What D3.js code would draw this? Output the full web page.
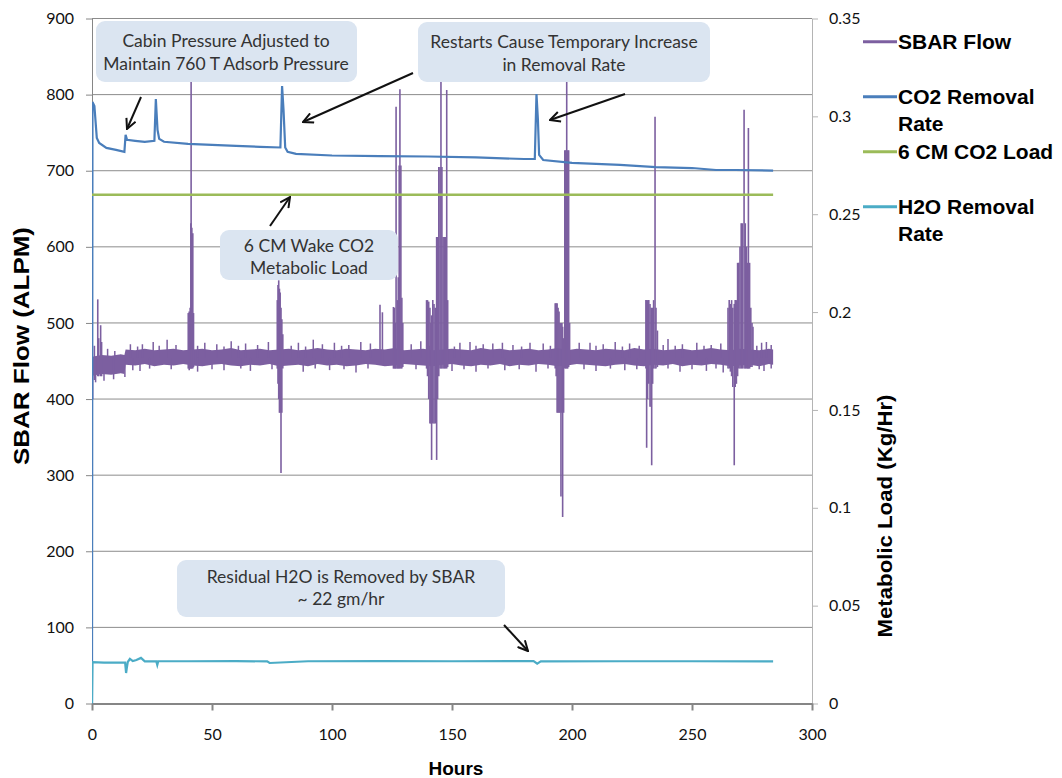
<!DOCTYPE html>
<html>
<head>
<meta charset="utf-8">
<script src="https://cdn.jsdelivr.net/npm/d3@7"></script>
<style>
  html, body { margin: 0; padding: 0; background: #fff; }
  svg { display: block; }
</style>
</head>
<body>
<svg id="chart" width="1062" height="778"></svg>
<script>
// ---------------- DATA ----------------
const xTicks = [0, 50, 100, 150, 200, 250, 300];
const yLeftTicks = [0, 100, 200, 300, 400, 500, 600, 700, 800, 900];
const yRightTicks = [0, 0.05, 0.1, 0.15, 0.2, 0.25, 0.3, 0.35];
const yRightTickLabels = ["0", "0.05", "0.1", "0.15", "0.2", "0.25", "0.3", "0.35"];

const seriesNames = ["SBAR Flow", "CO2 Removal Rate", "6 CM CO2 Load", "H2O Removal Rate"];

// SBAR Flow (ALPM) - baseline noise envelope
const sbarHours = [0, 0.5, 4, 8, 12, 13.5, 14, 18, 22, 26, 30, 34, 38, 42, 46, 50, 54, 58, 62, 66, 70, 74, 78, 82, 86, 90, 94, 98, 102, 106, 110, 114, 118, 122, 126, 130, 134, 138, 142, 146, 150, 154, 158, 162, 166, 170, 174, 178, 182, 186, 190, 194, 198, 202, 206, 210, 214, 218, 222, 226, 230, 234, 238, 242, 246, 250, 254, 258, 262, 266, 270, 274, 278, 282, 283.8];
const sbarLow = [428,431,433,432,434,433,445,444,446,443, 445,444,446,444,443,445,446,444,443,445, 444,446,443,444,445,443,446,444,445,443, 444,446,445,443,444,446,445,444,443,445, 446,444,443,445,444,446,443,445,444,446, 445,443,444,446,445,444,443,445,446,444, 443,445,444,446,443,445,444,446,445,443, 444,445,443,446,445];
const sbarHigh = [453,456,458,457,459,458,465,464,466,464, 465,466,464,465,466,464,465,467,464,465, 466,464,465,466,464,465,467,465,464,466, 465,464,466,465,467,464,465,466,464,465, 466,465,464,467,465,466,464,465,466,464, 465,467,464,466,465,464,466,465,464,467, 465,466,464,465,466,464,465,467,465,464, 466,465,464,466,465];

// SBAR Flow - small upward excursions in the noise
const sbarMinorHours = [6.5, 9.5, 16, 19, 21, 25.5, 28, 31.3, 35, 44, 47, 52, 55, 58, 61, 64, 69, 73.5, 83, 86, 89, 92.2, 96, 101, 104, 107, 112, 116, 133, 137, 140.5, 151, 153.3, 157.5, 160, 163, 167, 171, 175.4, 179, 182.5, 188, 191, 203, 207.5, 210, 213, 218, 221, 224, 228, 238, 240, 243, 246, 252, 255, 258, 262, 277, 279, 281, 283];
const sbarMinorHighs = [466,463,472,469,472,475,470,478,471,470,474,472,469,476,470,473,471,475,470,474,469,478,472,474,470,471,475,473,472,476,470,469,474,475,470,472,473,474,471,469,474,473,470,474,474,470,472,475,469,473,470,471,479,470,472,474,470,471,473,470,474,475,471];
// SBAR Flow - small downward excursions
const sbarDipHours = [0.3, 1.5, 5, 9, 13.7, 17, 20, 24, 33, 44, 50, 55, 62, 66, 75, 88, 93, 99, 105, 110, 115, 135, 150, 155, 160, 165, 172, 178, 185, 190, 205, 210, 216, 222, 227, 240, 245, 250, 256, 260, 263, 278, 280, 283];
const sbarDipLows = [400,422,424,426,429,438,437,440,439,436,439,438,440,437,439,436,440,438,439,435,440,439,437,439,436,440,438,439,436,440,439,437,440,438,439,440,436,439,437,440,435,439,437,440];

// SBAR Flow - restart transients (hour, min, max)
const spikeHours = [1.0, 2.4, 2.8, 3.6, 4.0,
  40.1, 40.5, 40.9, 41.2, 41.3, 41.6, 42.0, 42.3,
  77.2, 77.5, 77.8, 78.1, 78.4, 78.75, 79.1, 79.5,
  120.0, 121.0,
  125.6, 126.0, 126.4, 126.7, 127.2, 127.6, 128.0, 128.3, 128.7, 129.1, 129.5,
  139.4, 139.8, 140.3, 140.8, 141.2, 141.5, 142.0, 142.5, 143.0, 143.6, 144.0, 144.5, 145.0, 145.4, 145.8, 146.3, 146.8, 147.3, 147.8, 148.2,
  193.0, 193.4, 193.8, 194.2, 194.6, 195.0, 195.4, 195.8, 196.1, 196.5, 197.0, 197.4, 197.8, 198.2, 198.6, 199.0,
  230.8, 231.1, 231.5, 232.0, 232.5, 233.0, 233.2, 233.6, 234.0, 234.6, 235.0, 235.6,
  265.0, 265.5, 266.0, 266.5, 267.0, 267.6, 268.0, 268.5, 269.0, 269.5, 270.0, 270.5, 271.0, 271.7, 272.2, 272.7, 273.2, 273.5, 274.0, 274.5, 275.0, 275.4];
const spikeLows = [425, 430, 430, 430, 430,
  440, 438, 440, 440, 440, 440, 440, 442,
  440, 420, 400, 382, 382, 303, 382, 440,
  445, 445,
  440, 440, 440, 440, 440, 440, 440, 440, 440, 440, 442,
  440, 430, 400, 368, 368, 320, 368, 368, 368, 320, 400, 430, 440, 440, 440, 440, 440, 440, 440, 442,
  440, 430, 382, 382, 382, 382, 272, 382, 245, 382, 440, 440, 440, 440, 442, 445,
  440, 336, 400, 420, 390, 390, 313, 420, 440, 440, 440, 442,
  440, 440, 436, 430, 416, 313, 416, 420, 430, 440, 440, 440, 440, 440, 440, 440, 440, 440, 440, 442, 442, 445];
const spikeHighs = [470, 531, 480, 497, 475,
  513, 515, 520, 631, 850, 625, 618, 513,
  530, 550, 556, 545, 540, 520, 505, 485,
  524, 514,
  521, 520, 500, 784, 530, 560, 707, 807, 707, 533, 500,
  530, 530, 528, 520, 500, 510, 530, 525, 520, 613, 613, 705, 705, 850, 705, 613, 613, 613, 806, 530,
  526, 526, 526, 520, 515, 500, 500, 500, 495, 480, 727, 727, 850, 727, 727, 500,
  530, 530, 530, 530, 525, 520, 510, 520, 530, 771, 520, 490,
  520, 530, 525, 530, 520, 525, 530, 530, 579, 579, 600, 631, 631, 780, 631, 600, 579, 756, 579, 520, 500, 495];

// CO2 Removal Rate (kg/hr, right axis)
const co2Hours = [0, 0.2, 1, 2, 3, 6, 10, 13.5, 14, 14.6, 18, 22, 26, 26.6, 27.3, 28, 30, 40, 50, 60, 70, 78.5, 79.2, 79.8, 80.5, 81.5, 85, 100, 120, 140, 160, 180, 184.5, 185.2, 185.8, 186.3, 188, 200, 220, 235, 250, 260, 268, 283.8];
const co2Values = [0, 0.3073, 0.3053, 0.2890, 0.2864, 0.2839, 0.2829, 0.2819, 0.2906, 0.2880, 0.2875, 0.2870, 0.2875, 0.3089, 0.2931, 0.2885, 0.2870, 0.2859, 0.2854, 0.2849, 0.2844, 0.2841, 0.3155, 0.3033, 0.2841, 0.2819, 0.2808, 0.2800, 0.2797, 0.2795, 0.2790, 0.2782, 0.2782, 0.3114, 0.2982, 0.2803, 0.2777, 0.2762, 0.2752, 0.2741, 0.2736, 0.2726, 0.2726, 0.2723];

// 6 CM CO2 Load (kg/hr, right axis)
const loadHours = [0, 283.8];
const loadValues = [0.26, 0.26];

// H2O Removal Rate (kg/hr, right axis)
const h2oHours = [0, 0.2, 5, 13.8, 14.2, 14.5, 14.9, 15.8, 17, 18.5, 20.4, 22, 26.8, 27.2, 27.6, 40, 60, 73, 74, 90, 120, 150, 184, 185.5, 187, 220, 250, 283.8];
const h2oValues = [0, 0.0211, 0.0209, 0.0209, 0.0156, 0.0181, 0.0212, 0.0228, 0.0217, 0.0222, 0.0233, 0.0215, 0.0215, 0.0197, 0.0216, 0.0216, 0.0217, 0.0215, 0.0207, 0.0216, 0.0217, 0.0216, 0.0217, 0.0204, 0.0215, 0.0216, 0.0216, 0.0215];

// Annotations
const noteTexts = [
  ["Cabin Pressure Adjusted to", "Maintain 760 T Adsorb Pressure"],
  ["Restarts Cause Temporary Increase", "in Removal Rate"],
  ["6 CM Wake CO2", "Metabolic Load"],
  ["Residual H2O is Removed by SBAR", "~ 22 gm/hr"]
];

// ---------------- DRAW ----------------
const svg = d3.select("#chart");
const colors = { sbar: "#7c5fa0", co2: "#4a7ebb", load: "#9bbb59", h2o: "#4bacc6" };
const L = 92, R = 812, T = 18.5, B = 703.5;

const x = d3.scaleLinear().domain([0, 300]).range([L, R]);
const yL = d3.scaleLinear().domain([0, 900]).range([B, T]);
const yR = d3.scaleLinear().domain([0, 0.35]).range([B, T]);

const tickFont = "Lato, 'Open Sans', sans-serif";

// gridlines
svg.append("g").selectAll("line").data(yLeftTicks.filter(d => d > 0)).join("line")
  .attr("x1", L).attr("x2", R)
  .attr("y1", d => yL(d)).attr("y2", d => yL(d))
  .attr("stroke", "#8c8c8c").attr("stroke-width", 1);

// axes
const gL = svg.append("g").attr("transform", `translate(${L},0)`)
  .call(d3.axisLeft(yL).tickValues(yLeftTicks).tickSize(6).tickSizeOuter(0).tickPadding(12));
const gR = svg.append("g").attr("transform", `translate(${R},0)`)
  .call(d3.axisRight(yR).tickValues(yRightTicks).tickSize(6).tickSizeOuter(0).tickPadding(11)
    .tickFormat((d, i) => yRightTickLabels[i]));
const gB = svg.append("g").attr("transform", `translate(0,${B})`)
  .call(d3.axisBottom(x).tickValues(xTicks).tickSize(7).tickSizeOuter(0).tickPadding(18));

[gL, gR, gB].forEach(g => {
  g.selectAll("text").attr("font-family", tickFont).attr("font-size", 16).attr("fill", "#111");
});
gL.select(".domain").attr("stroke", "#868686");
gL.selectAll(".tick line").attr("stroke", "#868686");
gR.select(".domain").attr("stroke", "#b4b4b4");
gR.selectAll(".tick line").attr("stroke", "#b4b4b4");
gB.select(".domain").attr("stroke", "#868686").attr("stroke-width", 2);
gB.selectAll(".tick line").attr("stroke", "#868686").attr("stroke-width", 2);

// clip for plot
svg.append("clipPath").attr("id", "plotclip").append("rect")
  .attr("x", L).attr("y", T).attr("width", R - L).attr("height", B - T);
const plot = svg.append("g").attr("clip-path", "url(#plotclip)");

// SBAR band
const band = sbarHours.map((h, i) => ({ h, lo: sbarLow[i], hi: sbarHigh[i] }));
plot.append("path").datum(band)
  .attr("d", d3.area().x(d => x(d.h)).y0(d => yL(d.lo)).y1(d => yL(d.hi)))
  .attr("fill", colors.sbar);
// minor excursions
const vline = d3.line().x(d => x(d[0])).y(d => yL(d[1]));
const minor = sbarMinorHours.map((h, i) => [[h, 454], [h, sbarMinorHighs[i]]])
  .concat(sbarDipHours.map((h, i) => [[h, 454], [h, sbarDipLows[i]]]));
plot.append("g").selectAll("path").data(minor).join("path")
  .attr("d", vline).attr("stroke", colors.sbar).attr("stroke-width", 1.5).attr("fill", "none");
// transients
const spikes = spikeHours.map((h, i) => [[h, spikeLows[i]], [h, spikeHighs[i]]]);
plot.append("g").selectAll("path").data(spikes).join("path")
  .attr("d", vline).attr("stroke", colors.sbar).attr("stroke-width", 1.6).attr("fill", "none");

// right-axis series
const lineR = d3.line().x(d => x(d[0])).y(d => yR(d[1]));
plot.append("path").datum(co2Hours.map((h, i) => [h, co2Values[i]]))
  .attr("d", lineR).attr("fill", "none").attr("stroke", colors.co2).attr("stroke-width", 2.2);
plot.append("path").datum(loadHours.map((h, i) => [h, loadValues[i]]))
  .attr("d", lineR).attr("fill", "none").attr("stroke", colors.load).attr("stroke-width", 2.5);
plot.append("path").datum(h2oHours.map((h, i) => [h, h2oValues[i]]))
  .attr("d", lineR).attr("fill", "none").attr("stroke", colors.h2o).attr("stroke-width", 2.2);

// annotation boxes
const boxes = [
  { x: 96, y: 21, w: 261, h: 61, cx: 226, b1: 47, b2: 70 },
  { x: 418, y: 22, w: 292, h: 60, cx: 564, b1: 48, b2: 71 },
  { x: 220, y: 230, w: 178, h: 50, cx: 309, b1: 252, b2: 274 },
  { x: 177, y: 560, w: 328, h: 57, cx: 341, b1: 583, b2: 605 }
];
const gN = svg.append("g");
boxes.forEach((b, i) => {
  gN.append("rect").attr("x", b.x).attr("y", b.y).attr("width", b.w).attr("height", b.h)
    .attr("rx", 9).attr("fill", "#dbe5f1");
  gN.append("text").attr("x", b.cx).attr("y", b.b1).attr("text-anchor", "middle")
    .attr("font-family", tickFont).attr("font-size", 17.5).attr("fill", "#333").text(noteTexts[i][0]);
  gN.append("text").attr("x", b.cx).attr("y", b.b2).attr("text-anchor", "middle")
    .attr("font-family", tickFont).attr("font-size", 17.5).attr("fill", "#333").text(noteTexts[i][1]);
});

// arrows
svg.append("defs").append("marker").attr("id", "arr")
  .attr("viewBox", "0 0 12 12").attr("refX", 11).attr("refY", 6)
  .attr("markerWidth", 12).attr("markerHeight", 12).attr("markerUnits", "userSpaceOnUse")
  .attr("orient", "auto")
  .append("path").attr("d", "M1,1 L11,6 L1,11").attr("fill", "none").attr("stroke", "#111").attr("stroke-width", 2);
const arrows = [
  [141, 97, 127, 129],
  [413, 73, 303, 122],
  [625, 94, 550, 120],
  [270, 226, 290, 197],
  [504, 625, 528, 651]
];
svg.append("g").selectAll("line").data(arrows).join("line")
  .attr("x1", d => d[0]).attr("y1", d => d[1]).attr("x2", d => d[2]).attr("y2", d => d[3])
  .attr("stroke", "#111").attr("stroke-width", 2).attr("marker-end", "url(#arr)");

// axis titles
const titleFont = "'Liberation Sans', Arial, sans-serif";
svg.append("text").attr("transform", "translate(29,346) rotate(-90)").attr("text-anchor", "middle")
  .attr("font-family", titleFont).attr("font-weight", "bold").attr("font-size", 22)
  .attr("textLength", 238).attr("lengthAdjust", "spacingAndGlyphs").text("SBAR Flow (ALPM)");
svg.append("text").attr("transform", "translate(892,516) rotate(-90)").attr("text-anchor", "middle")
  .attr("font-family", titleFont).attr("font-weight", "bold").attr("font-size", 21)
  .attr("textLength", 243).attr("lengthAdjust", "spacingAndGlyphs").text("Metabolic Load (Kg/Hr)");
svg.append("text").attr("x", 456).attr("y", 775).attr("text-anchor", "middle")
  .attr("font-family", titleFont).attr("font-weight", "bold").attr("font-size", 19).text("Hours");

// legend
const legendItems = [
  { lines: ["SBAR Flow"], color: colors.sbar, y: 41.7 },
  { lines: ["CO2 Removal", "Rate"], color: colors.co2, y: 96.7 },
  { lines: ["6 CM CO2 Load"], color: colors.load, y: 151.7 },
  { lines: ["H2O Removal", "Rate"], color: colors.h2o, y: 206.7 }
];
const gLeg = svg.append("g");
legendItems.forEach((it, i) => {
  gLeg.append("line").attr("x1", 863).attr("x2", 897).attr("y1", it.y).attr("y2", it.y)
    .attr("stroke", it.color).attr("stroke-width", 3);
  it.lines.forEach((t, j) => {
    gLeg.append("text").attr("x", 898).attr("y", it.y + 7.5 + j * 26.5)
      .attr("font-family", titleFont).attr("font-weight", "bold").attr("font-size", 21)
      .attr("fill", "#000").text(t);
  });
});
</script>
</body>
</html>
